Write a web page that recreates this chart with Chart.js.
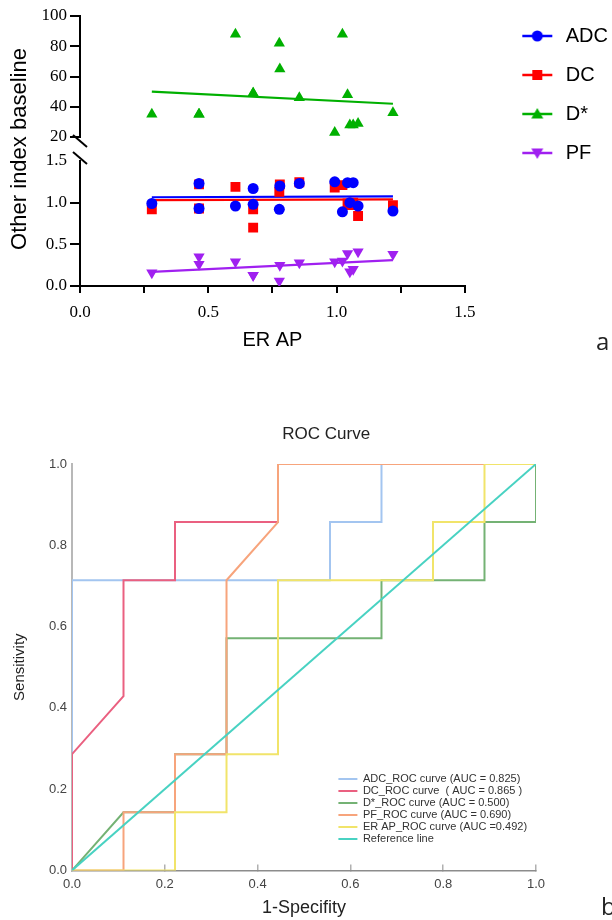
<!DOCTYPE html>
<html>
<head>
<meta charset="utf-8">
<script src="https://cdn.jsdelivr.net/npm/chart.js@4.4.1/dist/chart.umd.min.js"></script>
<style>
  html, body { margin: 0; padding: 0; background: #fff; overflow: hidden; }
  body { width: 612px; height: 920px; position: relative; }
  .box { position: absolute; }
  #wrap-a { left: 0; top: 0; width: 620px; height: 360px; }
  #wrap-b { left: 0; top: 400px; width: 612px; height: 520px; }
  .panel-tag { position: absolute; font-family: "Open Sans", sans-serif; font-size: 24px; color: #222; line-height: normal; }
</style>
</head>
<body>
<div id="wrap-a" class="box"><canvas id="chart-a"></canvas></div>
<div id="wrap-b" class="box"><canvas id="chart-b"></canvas></div>
<div class="panel-tag" style="left:596px; top:324px">a</div>
<div class="panel-tag" style="left:601px; top:889px">b</div>

<script>
// ─── Панель a: базові значення проти ER AP ───────────────────────────────────
const erAP      = [0.28, 0.464, 0.464, 0.606, 0.675, 0.675, 0.777, 0.779, 0.855, 0.993, 1.023, 1.043, 1.052, 1.065, 1.084, 1.22];
const adcBase   = [0.99, 1.23, 0.93, 0.96, 1.17, 0.98, 0.92, 1.20, 1.23, 1.25, 0.89, 1.24, 1.00, 1.24, 0.96, 0.90];
const dcBase    = [0.92, 1.22, 0.93, 1.19, 0.92, 0.70, 1.13, 1.22, 1.245, 1.18, 1.21, 0.99, 0.97, 1.00, 0.84, 0.97];
const dStarBase = [35, 35, 35, 88, 49, 49, 82, 65, 46, 23, 88, 48, 28, 28, 29, 36];
const pfBase    = [0.16, 0.35, 0.26, 0.29, 0.13, 0.13, 0.06, 0.25, 0.28, 0.29, 0.30, 0.39, 0.17, 0.20, 0.41, 0.38];

// лінії тренду (кінці)
const fitX     = [0.28, 1.22];
const adcFit   = [1.065, 1.075];
const dcFit    = [1.03, 1.04];
const dStarFit = [50, 42];
const pfFit    = [0.17, 0.31];

const seriesNames  = ["ADC", "DC", "D*", "PF"];
const seriesColors = ["#0000ff", "#ff0000", "#00b000", "#a020f0"];
const seriesShapes = ["circle", "rect", "triangle", "down"];

// ─── Панель b: ROC-криві ─────────────────────────────────────────────────────
const rocLabels = [
  "ADC_ROC curve (AUC = 0.825)",
  "DC_ROC curve  ( AUC = 0.865 )",
  "D*_ROC curve (AUC = 0.500)",
  "PF_ROC curve (AUC = 0.690)",
  "ER AP_ROC curve (AUC =0.492)",
  "Reference line"
];
const rocColors = ["#a3c5f0", "#ea6080", "#74b274", "#f7a47c", "#f1e46a", "#48d2c2"];

const adcFpr  = [0, 0, 0.556, 0.556, 0.667, 0.667, 1];
const adcTpr  = [0, 0.714, 0.714, 0.857, 0.857, 1, 1];
const dcFpr   = [0, 0, 0.111, 0.111, 0.222, 0.222, 0.444, 0.444, 1];
const dcTpr   = [0, 0.286, 0.429, 0.714, 0.714, 0.857, 0.857, 1, 1];
const dStarFpr = [0, 0.111, 0.222, 0.222, 0.333, 0.333, 0.667, 0.667, 0.889, 0.889, 1, 1];
const dStarTpr = [0, 0.143, 0.143, 0.286, 0.286, 0.571, 0.571, 0.714, 0.714, 0.857, 0.857, 1];
const pfFpr   = [0, 0.111, 0.111, 0.222, 0.222, 0.333, 0.333, 0.444, 0.444, 1];
const pfTpr   = [0, 0, 0.143, 0.143, 0.286, 0.286, 0.714, 0.857, 1, 1];
const erFpr   = [0, 0.222, 0.222, 0.333, 0.333, 0.444, 0.444, 0.778, 0.778, 0.889, 0.889, 1];
const erTpr   = [0, 0, 0.143, 0.143, 0.286, 0.286, 0.714, 0.714, 0.857, 0.857, 1, 1];
const refFpr  = [0, 1];
const refTpr  = [0, 1];

const rocFpr = [adcFpr, dcFpr, dStarFpr, pfFpr, erFpr, refFpr];
const rocTpr = [adcTpr, dcTpr, dStarTpr, pfTpr, erTpr, refTpr];

Chart.defaults.font.family = "'Liberation Sans', Arial, sans-serif";
Chart.defaults.animation = false;

const toPoints = (xs, ys) => xs.map((x, i) => ({ x, y: ys[i] }));

// значок легенди: лінія з маркером
function legendIcon(color, shape) {
  const c = document.createElement("canvas");
  c.width = 76; c.height = 20;
  const g = c.getContext("2d");
  g.strokeStyle = color;
  g.fillStyle = color;
  g.lineWidth = 2.5;
  g.beginPath(); g.moveTo(45, 10); g.lineTo(75, 10); g.stroke();
  const cx = 60, cy = 10;
  g.beginPath();
  if (shape === "circle") g.arc(cx, cy, 5.5, 0, Math.PI * 2);
  else if (shape === "rect") g.rect(cx - 5, cy - 5, 10, 10);
  else if (shape === "triangle") { g.moveTo(cx, cy - 6); g.lineTo(cx + 6, cy + 4.5); g.lineTo(cx - 6, cy + 4.5); g.closePath(); }
  else { g.moveTo(cx, cy + 6); g.lineTo(cx + 6, cy - 4.5); g.lineTo(cx - 6, cy - 4.5); g.closePath(); }
  g.fill();
  return c;
}
const icons = seriesColors.map((c, i) => legendIcon(c, seriesShapes[i]));

// позначки розриву осі Y
const axisBreak = {
  id: "axisBreak",
  afterDraw(chart) {
    const { ctx } = chart;
    const top = chart.scales.yTop, bot = chart.scales.yBot;
    const x = top.right;
    ctx.save();
    ctx.strokeStyle = "#000";
    ctx.lineWidth = 2;
    [top.bottom + 4, bot.top - 3].forEach(y => {
      ctx.beginPath();
      ctx.moveTo(x - 7, y - 6);
      ctx.lineTo(x + 7, y + 6);
      ctx.stroke();
    });
    ctx.restore();
  }
};

// ─── Панель a ────────────────────────────────────────────────────────────────
const serifTicks = { family: "'Liberation Serif', 'Times New Roman', serif", size: 17 };
const blackGrid = { drawOnChartArea: false, color: "#000", lineWidth: 2, tickLength: 10 };

function pointSet(i, ys, axis, radius, rotation) {
  return {
    label: seriesNames[i],
    data: toPoints(erAP, ys),
    yAxisID: axis,
    backgroundColor: seriesColors[i],
    borderColor: seriesColors[i],
    borderWidth: 0,
    pointStyle: seriesShapes[i] === "down" ? "triangle" : seriesShapes[i],
    pointRotation: rotation || 0,
    pointRadius: radius
  };
}
function fitSet(i, ys, axis) {
  return {
    label: seriesNames[i] + " fit",
    data: toPoints(fitX, ys),
    yAxisID: axis,
    showLine: true,
    pointRadius: 0,
    borderColor: seriesColors[i],
    borderWidth: 2.2
  };
}

new Chart(document.getElementById("chart-a"), {
  type: "scatter",
  data: {
    datasets: [
      pointSet(0, adcBase, "yBot", 5.5),
      pointSet(1, dcBase, "yBot", 7),
      pointSet(2, dStarBase, "yTop", 6.5),
      pointSet(3, pfBase, "yBot", 6.5, 180),
      fitSet(0, adcFit, "yBot"),
      fitSet(1, dcFit, "yBot"),
      fitSet(2, dStarFit, "yTop"),
      fitSet(3, pfFit, "yBot")
    ]
  },
  options: {
    responsive: true,
    maintainAspectRatio: false,
    events: [],
    layout: { padding: { left: 3, top: 16, right: 2, bottom: 8 } },
    plugins: {
      tooltip: { enabled: false },
      legend: {
        position: "right",
        align: "start",
        maxWidth: 170,
        labels: {
          usePointStyle: true,
          pointStyleWidth: 81,
          padding: 10,
          color: "#000",
          font: { size: 20, lineHeight: 1.45 },
          generateLabels: () => seriesNames.map((n, i) => ({
            text: [n], pointStyle: icons[i], fontColor: "#000", lineWidth: 0, datasetIndex: i, hidden: false
          }))
        }
      }
    },
    scales: {
      x: {
        type: "linear", min: 0, max: 1.5,
        border: { color: "#000", width: 2 },
        grid: { ...blackGrid, tickLength: 7 },
        ticks: {
          stepSize: 0.25, padding: 9.8, color: "#000", font: serifTicks, autoSkip: false, maxRotation: 0,
          callback: v => Math.abs(v * 2 - Math.round(v * 2)) < 1e-6 ? v.toFixed(1) : ""
        },
        title: { display: true, text: "ER AP", color: "#000", font: { size: 20 }, padding: { top: -5, bottom: 0 } }
      },
      // ліві осі складаються знизу вгору: нижній сегмент, розрив, верхній сегмент
      yBot: {
        type: "linear", position: "left", stack: "left", stackWeight: 125,
        min: 0, max: 1.5,
        border: { color: "#000", width: 2 },
        grid: { ...blackGrid, color: c => (c.tick && c.tick.value === 1.5) ? "rgba(0,0,0,0)" : "#000" },
        ticks: { stepSize: 0.5, padding: 3, color: "#000", font: serifTicks, autoSkip: false, callback: v => v.toFixed(1) }
      },
      yGap: {
        type: "linear", position: "left", stack: "left", stackWeight: 24,
        grid: { display: false },
        border: { display: false },
        ticks: { display: false },
        title: { display: true, text: "Other index baseline", color: "#000", font: { size: 22 }, padding: { top: 4, bottom: 0 } },
        afterFit: s => { s.width = 77; }
      },
      yTop: {
        type: "linear", position: "left", stack: "left", stackWeight: 121,
        min: 20, max: 100,
        border: { color: "#000", width: 2 },
        grid: blackGrid,
        ticks: { stepSize: 20, padding: 3, color: "#000", font: serifTicks, autoSkip: false }
      }
    }
  },
  plugins: [axisBreak]
});

// ─── Панель b ────────────────────────────────────────────────────────────────
// легенда всередині області графіка, заголовок трохи правіше центру
const placeBlocks = {
  id: "placeBlocks",
  afterLayout(chart) {
    const lg = chart.legend;
    const x = chart.scales.x.getPixelForValue(0.572);
    const y = chart.scales.y.getPixelForValue(0.241);
    lg.left = x; lg.right = x + lg.width;
    lg.top = y; lg.bottom = y + lg.height;

    const tb = chart.titleBlock;
    const w = tb.right - tb.left;
    const cx = chart.width * 0.533;
    tb.left = cx - w / 2; tb.right = cx + w / 2;
  }
};

new Chart(document.getElementById("chart-b"), {
  type: "scatter",
  data: {
    datasets: rocLabels.map((label, i) => ({
      label,
      data: toPoints(rocFpr[i], rocTpr[i]),
      showLine: true,
      pointRadius: 0,
      borderColor: rocColors[i],
      backgroundColor: rocColors[i],
      borderWidth: 2,
      order: rocLabels.length - 1 - i
    }))
  },
  options: {
    responsive: true,
    maintainAspectRatio: false,
    events: [],
    layout: { padding: { left: 7, top: 0, right: 76, bottom: 1.6 } },
    plugins: {
      tooltip: { enabled: false },
      title: {
        display: true, text: "ROC Curve", color: "#222",
        font: { size: 17, weight: "normal" },
        padding: { top: 23.8, bottom: 19.8 }
      },
      legend: {
        position: "chartArea",
        align: "start",
        labels: {
          boxWidth: 19, boxHeight: 0, padding: 1,
          color: "#333", font: { size: 11 },
          sort: (a, b) => a.datasetIndex - b.datasetIndex
        }
      }
    },
    scales: {
      x: {
        type: "linear", min: 0, max: 1,
        border: { color: "#8c8c8c", width: 1.5 },
        grid: { drawOnChartArea: false, color: "#b0b0b0", lineWidth: 1.5, tickLength: -6 },
        ticks: { stepSize: 0.2, padding: 12.2, color: "#444", font: { size: 13 }, callback: v => v.toFixed(1) },
        title: { display: true, text: "1-Specifity", color: "#222", font: { size: 18 }, padding: { top: -7.6, bottom: 0 } }
      },
      y: {
        type: "linear", min: 0, max: 1,
        border: { color: "#b8b8b8", width: 2 },
        grid: { display: false, drawTicks: false },
        ticks: { stepSize: 0.2, padding: 5, color: "#444", font: { size: 13 }, callback: v => v.toFixed(1) },
        title: { display: true, text: "Sensitivity", color: "#222", font: { size: 15 }, padding: { top: 4, bottom: 0 } },
        afterFit: s => { s.width = 65; }
      }
    }
  },
  plugins: [placeBlocks]
});
</script>
</body>
</html>
